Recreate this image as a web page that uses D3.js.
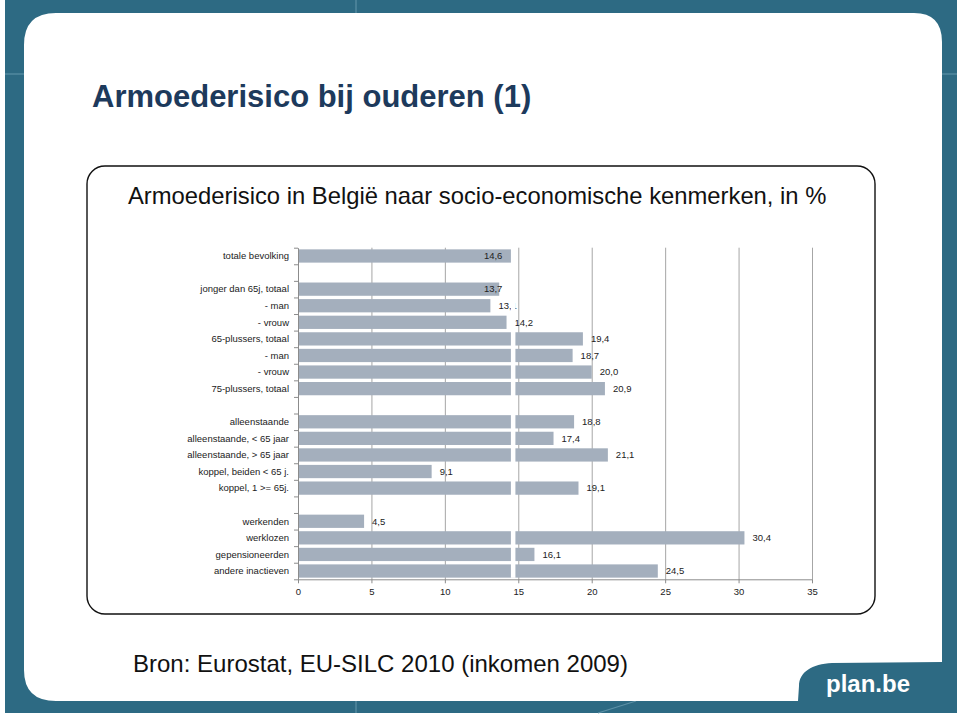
<!DOCTYPE html>
<html><head><meta charset="utf-8">
<script src="https://cdn.jsdelivr.net/npm/d3@7"></script>
<style>body{margin:0;background:#fff}svg{display:block}text{font-family:"Liberation Sans",Arial,sans-serif}</style>
</head><body><svg id="c" width="960" height="716"></svg>
<script>
// ---- data ----
const categories = ["totale bevolking", "", "jonger dan 65j, totaal", "- man", "- vrouw",
  "65-plussers, totaal", "- man", "- vrouw", "75-plussers, totaal", "",
  "alleenstaande", "alleenstaande, < 65 jaar", "alleenstaande, > 65 jaar",
  "koppel, beiden < 65 j.", "koppel, 1 >= 65j.", "",
  "werkenden", "werklozen", "gepensioneerden", "andere inactieven"];
const values = [14.6, null, 13.7, 13.1, 14.2, 19.4, 18.7, 20.0, 20.9, null,
  18.8, 17.4, 21.1, 9.1, 19.1, null, 4.5, 30.4, 16.1, 24.5];
const xTicks = [0, 5, 10, 15, 20, 25, 30, 35];
const splitValue = 14.6;
const insideLabels = ["totale bevolking", "jonger dan 65j, totaal"];

const pageTitle = "Armoederisico bij ouderen (1)";
const chartTitle = "Armoederisico in België naar socio-economische kenmerken, in %";
const sourceText = "Bron: Eurostat, EU-SILC 2010 (inkomen 2009)";
const brand = "plan.be";

(function () {
// ---- frame ----
const svg = d3.select("#c");
const teal = "#2d6a83";
svg.append("rect").attr("width", 960).attr("height", 716).attr("fill", "#fff");
svg.append("rect").attr("x", 5).attr("y", 0).attr("width", 952).attr("height", 713).attr("fill", teal);
const deco = [[5,74,24,74],[942,74,957,74],[356,0,356,13],[356,701,356,713],[598,713,636,701]];
svg.selectAll("line.deco").data(deco).join("line").attr("class","deco")
  .attr("x1",d=>d[0]).attr("y1",d=>d[1]).attr("x2",d=>d[2]).attr("y2",d=>d[3])
  .attr("stroke","#5c90a6").attr("stroke-width",1.2);

const p = d3.path();
p.moveTo(56, 13);
p.lineTo(914, 13);
p.quadraticCurveTo(942, 13, 942, 42);
p.lineTo(942, 662);
p.lineTo(832, 663);
p.bezierCurveTo(812, 664, 799, 672, 799, 686);
p.lineTo(798, 701);
p.lineTo(56, 701);
p.quadraticCurveTo(24, 701, 24, 670);
p.lineTo(24, 45);
p.quadraticCurveTo(24, 13, 56, 13);
p.closePath();
svg.append("path").attr("d", p.toString()).attr("fill", "#fff");

svg.append("text").attr("x", 92).attr("y", 107).text(pageTitle)
  .attr("font-size", 31).attr("font-weight", "bold").attr("fill", "#1d3a5c");

svg.append("text").attr("x", 133).attr("y", 672).text(sourceText)
  .attr("font-size", 24).attr("fill", "#111");

svg.append("text").attr("x", 826).attr("y", 692).text(brand)
  .attr("font-size", 24).attr("font-weight", "bold").attr("fill", "#fff");

svg.append("rect").attr("x", 87).attr("y", 166).attr("width", 788).attr("height", 448)
  .attr("rx", 18).attr("ry", 18).attr("fill", "#fff").attr("stroke", "#111").attr("stroke-width", 1.4);

svg.append("text").attr("x", 128).attr("y", 204).text(chartTitle)
  .attr("font-size", 23.8).attr("fill", "#111");

// ---- chart ----
const y0 = 247.7, y1 = 579.3;
const x = d3.scaleLinear().domain([0, 35]).range([298, 812]);
const y = d3.scaleBand().domain(d3.range(categories.length)).range([y0, y1])
  .paddingInner(0.2).paddingOuter(0.1);
const yLin = d3.scaleLinear().domain([0, categories.length]).range([y0, y1]);

const g = svg.append("g");

g.append("g").attr("transform", `translate(0,${y1})`)
  .call(d3.axisBottom(x).tickValues(xTicks.slice(1)).tickSize(-(y1 - y0)).tickFormat(""))
  .call(a => a.select(".domain").remove())
  .call(a => a.selectAll("line").attr("stroke", "#a6a6a6"));

const rows = values.map((v, i) => ({i, v, name: categories[i]})).filter(d => d.v != null);
g.selectAll("rect.bar").data(rows).join("rect").attr("class", "bar")
  .attr("x", x(0)).attr("y", d => y(d.i))
  .attr("width", d => x(d.v) - x(0)).attr("height", y.bandwidth())
  .attr("fill", "#a4afbd");

g.selectAll("text.val").data(rows).join("text").attr("class", "val")
  .attr("x", d => insideLabels.includes(d.name) ? Math.min(x(d.v) + 4, x(splitValue) - 10) : x(d.v) + 8)
  .attr("text-anchor", d => insideLabels.includes(d.name) ? "end" : "start")
  .attr("y", d => y(d.i) + y.bandwidth() / 2).attr("dy", "0.35em")
  .attr("font-size", 9.5).attr("fill", "#222")
  .text(d => d3.format(".1f")(d.v).replace(".", ","));

g.append("rect").attr("x", x(splitValue) - 1.5).attr("y", y0)
  .attr("width", 4.5).attr("height", y1 - y0 - 1.5).attr("fill", "#fff");

g.append("g").attr("transform", `translate(${x(0)},0)`)
  .call(d3.axisLeft(yLin).tickValues(d3.range(categories.length + 1)).tickSize(4).tickSizeOuter(0).tickFormat(""))
  .call(a => a.selectAll("line,path").attr("stroke", "#8c8c8c"));

g.selectAll("text.cat").data(categories.map((c, i) => ({c, i})).filter(d => d.c)).join("text")
  .attr("class", "cat").attr("x", 289).attr("text-anchor", "end")
  .attr("y", d => y(d.i) + y.bandwidth() / 2).attr("dy", "0.35em")
  .attr("font-size", 9.5).attr("fill", "#222").text(d => d.c);

g.append("g").attr("transform", `translate(0,${y1})`)
  .call(d3.axisBottom(x).tickValues(xTicks).tickSize(4).tickSizeOuter(0).tickPadding(5))
  .call(a => a.selectAll("line,path").attr("stroke", "#8c8c8c"))
  .call(a => a.selectAll("text").attr("font-size", 9.5).attr("fill", "#222")
    .attr("font-family", "'Liberation Sans',Arial,sans-serif"));
})();
</script></body></html>
